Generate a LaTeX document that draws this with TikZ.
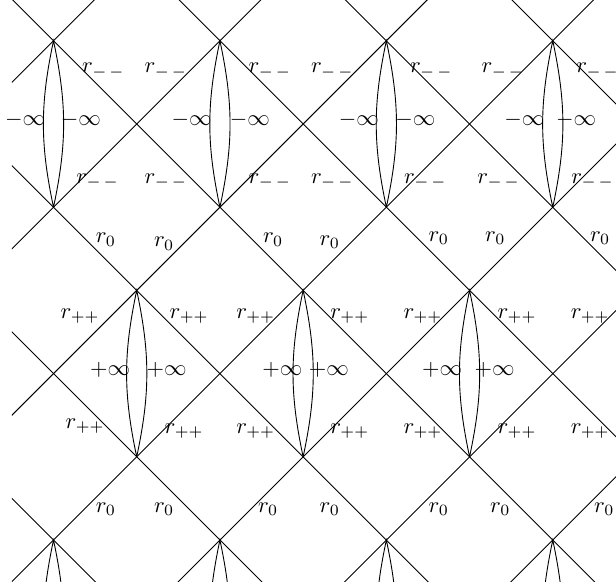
\documentclass[tikz,border=0pt]{standalone}
\usepackage{amsmath}
\usepackage{amssymb}
\begin{document}
\begin{tikzpicture}[x=1.3cm,y=1.3cm]
	\useasboundingbox (-0.643,-0.565) rectangle (6.76,6.49);
	\begin{scope}
		\clip (-0.5,-0.5) rectangle (6.8,6.5);
		\foreach \c in {-6,-4,...,6}
			\draw (\c-1,-1) -- (\c+8,8);
		\foreach \c in {0,2,...,12}
			\draw (\c+1,-1) -- (\c-8,8);
		\foreach \x/\y in {0/4,2/4,4/4,6/4,1/1,3/1,5/1,0/-2,2/-2,4/-2,6/-2}
			\draw (\x,\y) to[bend left=12] (\x,\y+2) to[bend left=12] (\x,\y);
	\end{scope}
	\foreach \x/\y [count=\i] in {0.60/5.64,1.35/5.64,2.60/5.64,3.35/5.64,4.54/5.64,5.40/5.64,6.54/5.64,
		0.53/4.31,1.35/4.31,2.60/4.31,3.35/4.31,4.47/4.31,5.35/4.31,6.48/4.31}
		\node (rmm\i) at (\x,\y) {$r_{-\,-}$};
	\foreach \x [count=\i] in {-0.34,0.33,1.66,2.36,3.67,4.35,5.66,6.28}
		\node (minf\i) at (\x,5.05) {$-\infty$};
	\foreach \x/\y [count=\i] in {0.63/3.61,1.33/3.56,2.64/3.61,3.32/3.58,4.63/3.63,5.31/3.63,6.57/3.63,
		0.63/0.37,1.33/0.37,2.58/0.37,3.32/0.37,4.63/0.37,5.37/0.37,6.62/0.37}
		\node (rz\i) at (\x,\y) {$r_0$};
	\foreach \x/\y [count=\i] in {0.32/2.69,1.63/2.69,2.43/2.69,3.56/2.69,4.44/2.69,5.57/2.69,6.45/2.69,
		0.38/1.37,1.57/1.31,2.43/1.31,3.56/1.31,4.44/1.31,5.57/1.31,6.45/1.31}
		\node (rpp\i) at (\x,\y) {$r_{++}$};
	\foreach \x [count=\i] in {0.68,1.36,2.75,3.31,4.67,5.30}
		\node (pinf\i) at (\x,2.05) {$+\infty$};
\end{tikzpicture}
\end{document}
